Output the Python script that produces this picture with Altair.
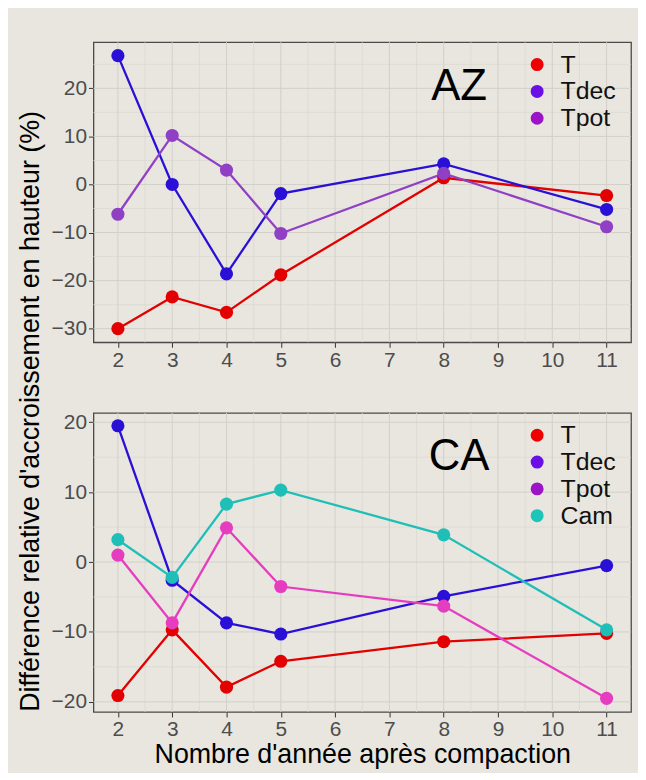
import altair as alt
import pandas as pd

years = [2, 3, 4, 5, 8, 11]
series_order = ["T", "Tdec", "Tpot", "Cam"]

az_T = [-30.0, -23.4, -26.6, -18.8, 1.4, -2.3]
az_Tdec = [26.8, 0.0, -18.6, -1.9, 4.3, -5.2]
az_Tpot = [-6.2, 10.2, 3.0, -10.2, 2.3, -8.8]

ca_T = [-19.1, -9.7, -17.9, -14.2, -11.4, -10.2]
ca_Tdec = [19.5, -2.6, -8.7, -10.3, -4.9, -0.5]
ca_Tpot = [1.0, -8.7, 4.9, -3.5, -6.3, -19.5]
ca_Cam = [3.2, -2.2, 8.3, 10.3, 3.9, -9.7]

x_ticks = [2, 3, 4, 5, 6, 7, 8, 9, 10, 11]
x_minor = [2.5, 3.5, 4.5, 5.5, 6.5, 7.5, 8.5, 9.5, 10.5]
az_y_ticks = [-30, -20, -10, 0, 10, 20]
az_y_minor = [-25, -15, -5, 5, 15, 25]
ca_y_ticks = [-20, -10, 0, 10, 20]
ca_y_minor = [-15, -5, 5, 15]

legend_colors = {"T": "#ee0000", "Tdec": "#6a0fe6", "Tpot": "#9b14c8", "Cam": "#1fc4b8"}
az_line_colors = {"T": "#e20000", "Tdec": "#2a10d6", "Tpot": "#9040c4"}
ca_line_colors = {"T": "#e20000", "Tdec": "#2a10d6", "Tpot": "#e63cc0", "Cam": "#1fbfb8"}

BG = "#e8e6df"
W = 541


def make_df(d, tag):
    rows = []
    for name in series_order:
        if name in d:
            for x, y in zip(years, d[name]):
                rows.append({"annee": x, "diff": y, "serie": name, "leg_" + tag: name})
    return pd.DataFrame(rows)


def panel(d, tag, line_colors, yt, ym, ydom, label, height, show_x_title, y_title):
    df = make_df(d, tag)
    names = [n for n in series_order if n in d]
    xs = alt.Scale(domain=[1.55, 11.45], nice=False, zero=False)
    ys = alt.Scale(domain=ydom, nice=False, zero=False)

    xaxis = alt.Axis(values=x_ticks, grid=False, domain=False, tickColor="#333333",
                     tickSize=5, labelColor="#4d4d4d", labelFontSize=21, labelPadding=2,
                     labelFont="Liberation Sans", format="d",
                     title="Nombre d'année après compaction" if show_x_title else None,
                     titleFontSize=27, titleFont="Liberation Sans", titleFontWeight="normal",
                     titleColor="#000000", titlePadding=2)
    yaxis_kwargs = dict(values=yt, grid=False, domain=False, tickColor="#333333",
                        tickSize=5, labelColor="#4d4d4d", labelFontSize=21, labelPadding=2,
                        labelFont="Liberation Sans", format="d")
    if y_title:
        yaxis = alt.Axis(title=y_title, titleFontSize=27, titleFont="Liberation Sans",
                         titleFontWeight="normal", titleColor="#000000", titleY=371,
                         titlePadding=7, **yaxis_kwargs)
    else:
        yaxis = alt.Axis(title=None, **yaxis_kwargs)

    gx_major = alt.Chart(pd.DataFrame({"v": x_ticks})).mark_rule(
        color="#d2d0c9", strokeWidth=1).encode(x=alt.X("v:Q", scale=xs, axis=xaxis))
    gx_minor = alt.Chart(pd.DataFrame({"v": x_minor})).mark_rule(
        color="#dbd9d2", strokeWidth=0.8).encode(x=alt.X("v:Q", scale=xs))
    gy_major = alt.Chart(pd.DataFrame({"v": yt})).mark_rule(
        color="#d2d0c9", strokeWidth=1).encode(y=alt.Y("v:Q", scale=ys, axis=yaxis))
    gy_minor = alt.Chart(pd.DataFrame({"v": ym})).mark_rule(
        color="#dbd9d2", strokeWidth=0.8).encode(y=alt.Y("v:Q", scale=ys))

    # visible marks: own scale (extra unused domain entry keeps it apart from the legend scale)
    vis_domain = names + ["_"]
    vis_range = [line_colors[n] for n in names] + ["#000000"]
    cscale = alt.Scale(domain=vis_domain, range=vis_range)
    base = alt.Chart(df).encode(
        x=alt.X("annee:Q", scale=xs),
        y=alt.Y("diff:Q", scale=ys),
    )
    lines = base.mark_line(strokeWidth=2.3).encode(
        stroke=alt.Stroke("serie:N", scale=cscale, legend=None),
        detail="serie:N",
    )
    points = base.mark_circle(size=175, opacity=1).encode(
        fill=alt.Fill("serie:N", scale=cscale, legend=None),
    )
    leg = alt.Legend(title=None, orient="none", legendX=434, legendY=10,
                     symbolType="circle", symbolSize=170,
                     symbolOpacity=1, symbolStrokeWidth=0,
                     labelFontSize=25, labelFont="Liberation Sans",
                     labelColor="#111111", labelOffset=11,
                     rowPadding=1, padding=0)
    lscale = alt.Scale(domain=names, range=[legend_colors[n] for n in names])
    legend_layer = base.mark_circle(opacity=0).encode(
        color=alt.Color("leg_" + tag + ":N", scale=lscale, legend=leg))
    txt = alt.Chart(pd.DataFrame({"lab": [label]})).mark_text(
        fontSize=44, font="Liberation Sans", color="#000000", align="center",
        baseline="alphabetic").encode(x=alt.value(368), y=alt.value(58), text="lab:N")

    return alt.layer(gx_minor, gy_minor, gx_major, gy_major, lines, points,
                     legend_layer, txt).properties(width=W, height=height)


top = panel({"T": az_T, "Tdec": az_Tdec, "Tpot": az_Tpot}, "az", az_line_colors,
            az_y_ticks, az_y_minor, [-32.84, 29.6], "AZ", 302, False,
            "Différence relative d'accroissement en hauteur (%)")
bottom = panel({"T": ca_T, "Tdec": ca_Tdec, "Tpot": ca_Tpot, "Cam": ca_Cam}, "ca",
               ca_line_colors, ca_y_ticks, ca_y_minor, [-21.45, 21.35], "CA", 301, True, None)

chart = alt.vconcat(top, bottom, spacing=71, bounds="flush").resolve_scale(
    color="independent", fill="independent", stroke="independent",
    x="independent", y="independent"
).resolve_legend(color="independent", fill="independent", stroke="independent").properties(
    background=BG,
    padding={"left": 7, "top": 30, "right": 5, "bottom": 2},
).configure_view(
    fill=BG, stroke="#4a4a4a", strokeWidth=1.3
)

chart.save("out.html", embed_options={"renderer": "svg", "actions": False})
